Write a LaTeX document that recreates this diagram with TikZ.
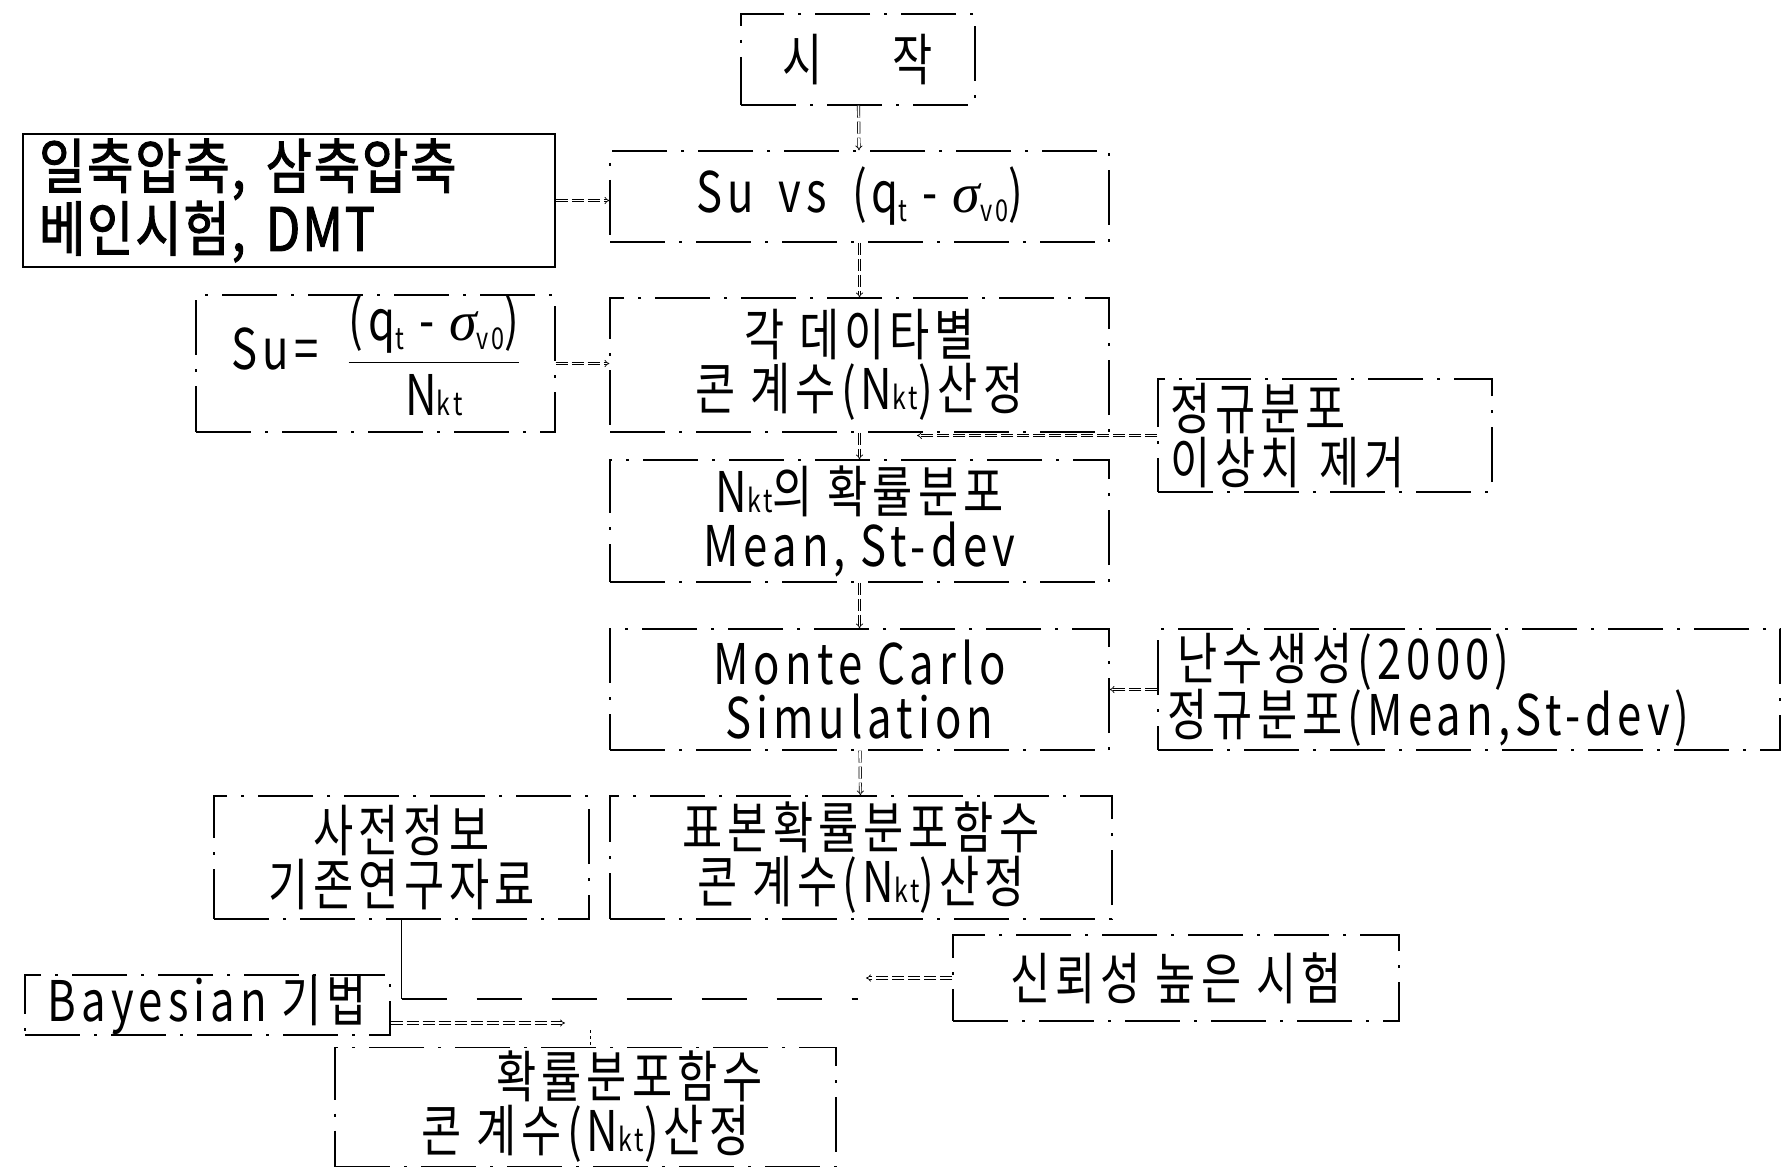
\documentclass[tikz,border=0pt]{standalone}
\usepackage{fontspec}
\setmainfont{Noto Sans CJK KR}[FakeStretch=0.78, LetterSpace=9]
\newfontfamily\boldkr{Noto Sans CJK KR}[FakeStretch=0.84, FakeBold=1.6, LetterSpace=3]
\newfontfamily\sig{Liberation Serif}
\newcommand\lo[1]{\raisebox{-9pt}{\fontsize{30}{30}\selectfont #1}}
\newcommand\nkt{N{\fontsize{32}{32}\selectfont kt}}
\usetikzlibrary{arrows.meta}
\tikzset{
  box/.style={draw, line width=1.2pt, dash pattern=on 55pt off 14pt on 3pt off 14pt,
    inner sep=0pt, align=center, font=\fontsize{56}{56}\selectfont},
  dbl/.style={double, double equal sign distance, line width=0.7pt, -Implies,
    dash pattern=on 12pt off 4pt},
  thinline/.style={line width=1pt},
  brokenline/.style={line width=1.2pt, dash pattern=on 45pt off 30pt},
}
\begin{document}
\begin{tikzpicture}[x=1pt,y=-1pt]
\useasboundingbox (0,0) rectangle (1783,1169);
% nodes
\node[box, minimum width=234pt, minimum height=91pt] (start) at (858,59.5) {시\hspace*{70pt}작};
\node[draw, line width=1.5pt, minimum width=532pt, minimum height=133pt, inner sep=0pt,
  text width=500pt, align=left, font=\boldkr\fontsize{60}{60}\selectfont] (input) at (289,200.5)
  {일축압축, 삼축압축\\베인시험, DMT};
\node[box, minimum width=499pt, minimum height=91pt] (suvs) at (859.5,196.5)
  {Su\hspace*{25pt}vs\hspace*{25pt}(q\lo{t} - {\sig\itshape σ}\lo{v0})};
\node[box, minimum width=359pt, minimum height=131pt] (sueq) at (375.5,363.5)
  {Su=\hspace*{30pt}{\setlength{\arrayrulewidth}{1.5pt}\renewcommand{\arraystretch}{1.0}%
   \begin{tabular}{@{}c@{}}(q\lo{t} - {\sig\itshape σ}\lo{v0})\\[4pt]\hline \rule{0pt}{52pt}\nkt\end{tabular}}};
\node[box, minimum width=499pt, minimum height=134pt] (gak) at (859.5,365)
  {각 데이타별\\[-2pt]콘 계수(\nkt)산정};
\node[box, minimum width=334pt, minimum height=113pt, text width=310pt, align=left] (norm) at (1325,435.5)
  {정규분포\\[-2pt]이상치 제거};
\node[box, minimum width=499pt, minimum height=122pt] (nkt) at (859.5,521)
  {\nkt 의 확률분포\\[-2pt]Mean, St-dev};
\node[box, minimum width=499pt, minimum height=121pt] (monte) at (859.5,689.5)
  {Monte Carlo\\[-2pt]Simulation};
\node[box, minimum width=622pt, minimum height=121pt, text width=604pt, align=left] (nansu) at (1469,689.5)
  {\hspace*{10pt}난수생성(2000)\\[-2pt]정규분포(Mean,St-dev)};
\node[box, minimum width=375pt, minimum height=123pt] (sajeon) at (401.5,857.5)
  {사전정보\\[-2pt]기존연구자료};
\node[box, minimum width=502pt, minimum height=123pt] (pyobon) at (861,857.5)
  {표본확률분포함수\\[-2pt]콘 계수(\nkt)산정};
\node[box, minimum width=446pt, minimum height=86pt] (sinroe) at (1176,978)
  {신뢰성 높은 시험};
\node[box, minimum width=365pt, minimum height=60pt] (bayes) at (207.5,1005)
  {Bayesian 기법};
\node[box, minimum width=501pt, minimum height=119pt] (final) at (585.5,1107)
  {\hspace*{88pt}확률분포함수\\[-2pt]콘 계수(\nkt)산정};
% coordinates
\coordinate (nA) at (917,432);
\coordinate (jA) at (401.5,999);
\coordinate (jB) at (858,999);
\coordinate (sA) at (866,978);
\coordinate (bA) at (565,1023);
\coordinate (bB) at (590,1030);
% connectors
\draw[dbl] (start) -- (suvs);
\draw[dbl] (input.east) -- (input.east -| suvs.west);
\draw[dbl] (suvs) -- (gak);
\draw[dbl] (sueq.east) -- (sueq.east -| gak.west);
\draw[dbl] (gak) -- (nkt);
\draw[dbl] (norm.west) -- (norm.west -| nA);
\draw[dbl] (nkt) -- (monte);
\draw[dbl] (nansu.west) -- (monte.east);
\draw[dbl] (monte) -- (pyobon);
\draw[dbl] (sinroe.west) -- (sA);
\draw[thinline] (sajeon.south) -- (jA);
\draw[brokenline] (jA) -- (jB);
\draw[dbl] (bayes.east |- bA) -- (bA);
\draw[thinline, dashed] (bB) -- (bB |- final.north);
\end{tikzpicture}
\end{document}
